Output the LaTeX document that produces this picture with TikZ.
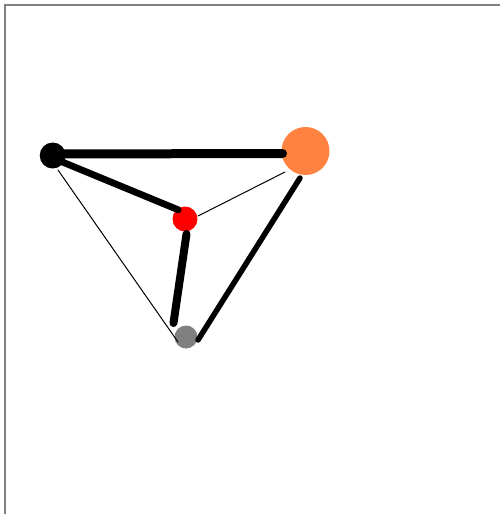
\documentclass[tikz,border=0pt]{standalone}
\usepackage{tikz}
\usetikzlibrary{calc}
\definecolor{nodeOrange}{RGB}{255,130,64}
\definecolor{frameGray}{RGB}{128,128,128}

\begin{document}
\begin{tikzpicture}[x=0.02cm, y=-0.02cm,
        vert/.style={circle, inner sep=0pt, draw=none},
        link/.style={black, line cap=round}]

    \useasboundingbox (0,0) rectangle (500,514);
    \draw[frameGray, line width=0.034cm] (4.8,514) -- (4.8,4.8) -- (500,4.8);

    \node[vert, fill=black, minimum size=0.52cm] (blk) at (52.7,155.5) {};
    \node[vert, fill=nodeOrange, minimum size=0.96cm] (org) at (305.5,151) {};
    \node[vert, fill=red, minimum size=0.5cm] (red) at (185,219) {};
    \node[vert, fill=frameGray, minimum size=0.46cm] (gry) at (186,337) {};

    \draw[link, line width=0.18cm] ($(blk)+(4,-1.5)$) -- ($(org)+(-23,2.5)$);
    \draw[link, line width=0.135cm] ($(blk)+(0,2.5)$) -- ($(red)+(-6.8,-9.2)$);
    \draw[link, line width=0.02cm] ($(blk)+(5.3,14.5)$) -- ($(gry)+(-8,5)$);
    \draw[link, line width=0.02cm] ($(org)+(-20.5,21)$) -- ($(red)+(13,-3)$);
    \draw[link, line width=0.11cm] ($(org)+(-5.5,27)$) -- ($(gry)+(12,3)$);
    \draw[link, line width=0.16cm] ($(red)+(1.5,15)$) -- ($(gry)+(-12.5,-14)$);
\end{tikzpicture}
\end{document}
